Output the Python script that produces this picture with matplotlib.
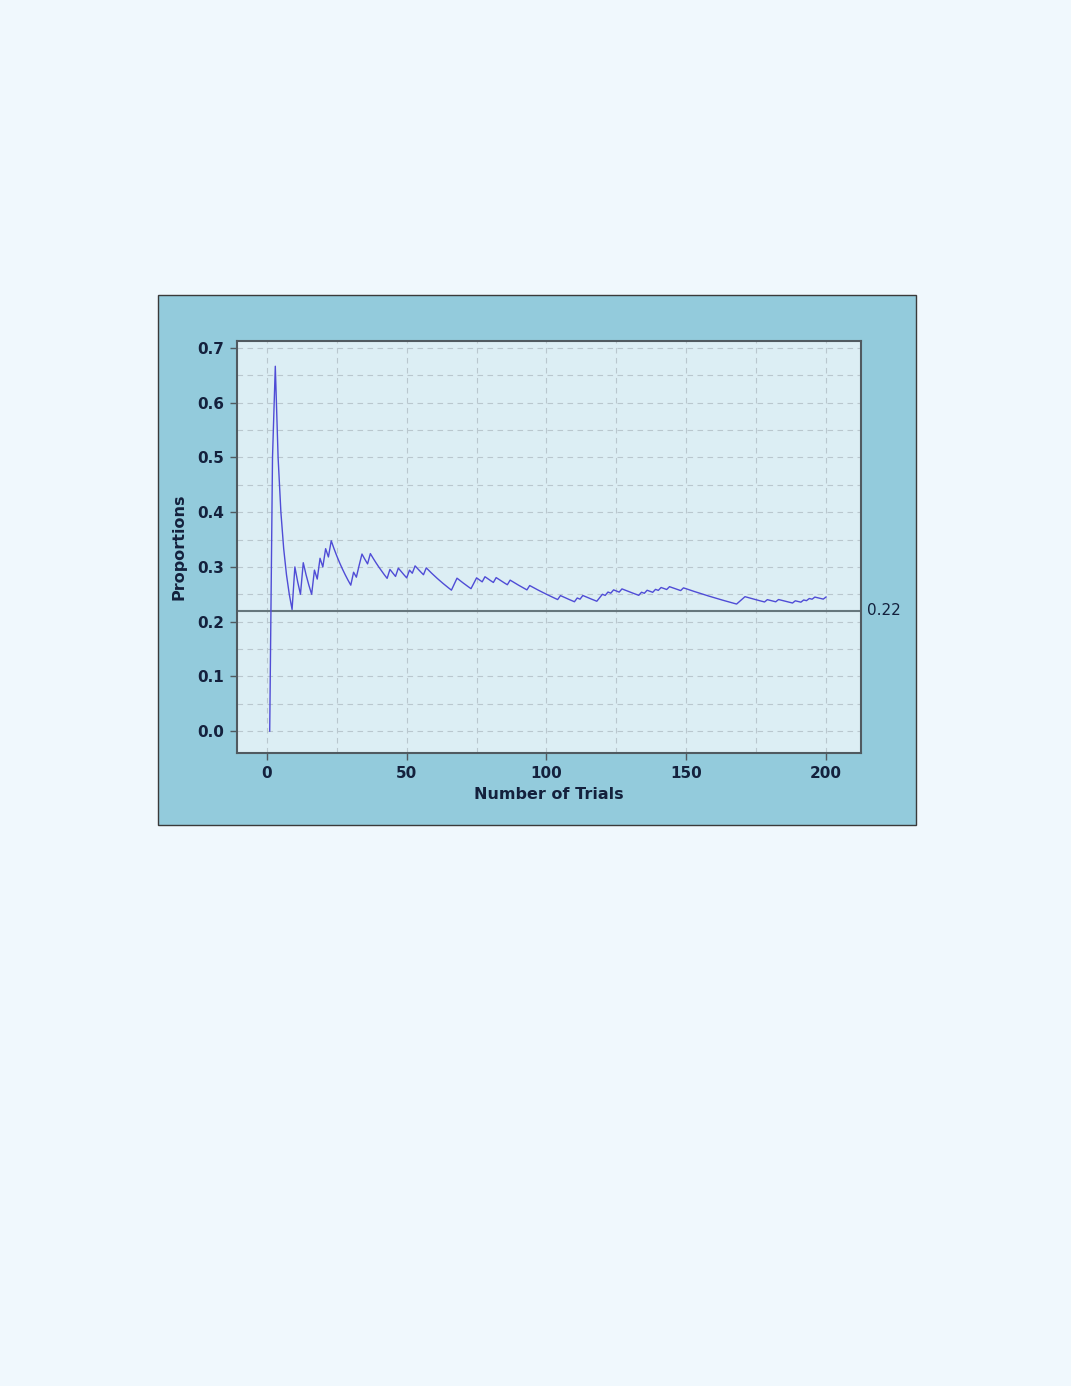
import matplotlib
matplotlib.use("Agg")
import matplotlib.pyplot as plt
from matplotlib.patches import Rectangle
from matplotlib.ticker import MultipleLocator
import numpy as np

success_trials = [2, 3, 10, 13, 17, 19, 21, 23, 31, 33, 34, 37, 44, 47, 51, 53,
                  57, 67, 68, 74, 75, 78, 82, 87, 94, 105, 111, 113, 119, 120,
                  122, 124, 127, 134, 136, 139, 141, 144, 149, 169, 170, 171,
                  179, 183, 189, 192, 194, 196, 200]
n_trials = 200
ref_value = 0.22
x_ticks = [0, 50, 100, 150, 200]
y_ticks = [0.0, 0.1, 0.2, 0.3, 0.4, 0.5, 0.6, 0.7]

trials = np.arange(1, n_trials + 1)
hits = np.isin(trials, success_trials).astype(int)
proportions = np.cumsum(hits) / trials

text_col = "#14213d"

fig = plt.figure(figsize=(10.71, 13.86), dpi=100)
fig.patch.set_facecolor("#f0f8fd")

# outer panel behind the chart
fig.patches.append(Rectangle((158 / 1071, 1 - 825 / 1386), 758 / 1071, 530 / 1386,
                             transform=fig.transFigure, facecolor="#93cbdc",
                             edgecolor="#3a3a3a", linewidth=1.0, zorder=-10))

ax = fig.add_axes([237 / 1071, 1 - 753 / 1386, 624 / 1071, 412 / 1386])
ax.set_facecolor("#dceef4")

ax.plot(trials, proportions, color="#4f4cd6", linewidth=1.0, zorder=3)
ax.axhline(ref_value, color="#66777d", linewidth=1.5, zorder=2)
ax.text(1.01, ref_value, f"{ref_value:.2f}", transform=ax.get_yaxis_transform(),
        ha="left", va="center", fontsize=11, color=text_col)

ax.set_xlim(-10.7, 212.5)
ax.set_ylim(-0.040, 0.7128)
ax.set_xticks(x_ticks)
ax.set_yticks(y_ticks)
ax.set_yticklabels([f"{v:.1f}" for v in y_ticks])
ax.xaxis.set_minor_locator(MultipleLocator(25))
ax.yaxis.set_minor_locator(MultipleLocator(0.05))
ax.grid(True, which="both", color="#b9c7ce", linestyle=(0, (5, 4)), linewidth=0.8)
ax.set_axisbelow(True)

ax.tick_params(axis="both", which="major", direction="out", length=5, width=1,
               color="#505a60", labelsize=11, labelcolor=text_col, pad=4)
ax.tick_params(axis="both", which="minor", length=0)
for lab in ax.get_xticklabels() + ax.get_yticklabels():
    lab.set_fontweight("bold")
for s in ax.spines.values():
    s.set_color("#505a60")
    s.set_linewidth(1.5)

ax.set_xlabel("Number of Trials", fontsize=11.5, fontweight="bold", color=text_col,
              labelpad=5)
ax.set_ylabel("Proportions", fontsize=11.5, fontweight="bold", color=text_col,
              labelpad=8)

fig.savefig("out.png", dpi=100, facecolor=fig.get_facecolor())
